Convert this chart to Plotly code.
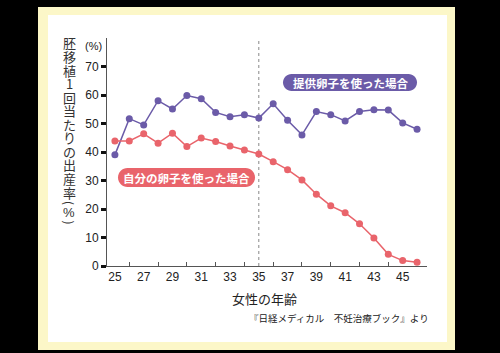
import plotly.graph_objects as go

ages = list(range(25, 47))
donor_rate = [39.0, 51.7, 49.5, 58.0, 55.1, 59.8, 58.7, 53.9, 52.4, 53.1, 51.9,
              56.9, 51.1, 46.0, 54.2, 53.1, 50.9, 54.2, 54.8, 54.7, 50.2, 48.0]
own_rate = [43.9, 43.9, 46.4, 43.1, 46.6, 41.9, 44.9, 43.7, 42.1, 40.7, 39.3,
            36.6, 33.8, 30.2, 25.2, 21.1, 18.7, 14.8, 9.8, 4.1, 1.9, 1.3]
y_ticks = [0, 10, 20, 30, 40, 50, 60, 70]
x_label_ticks = [25, 27, 29, 31, 33, 35, 37, 39, 41, 43, 45]
x_minor_ticks = [26, 28, 30, 32, 34, 36, 38, 40, 42, 44]

donor_label = "提供卵子を使った場合"
own_label = "自分の卵子を使った場合"
y_title_chars = list("胚移植1回当たりの出産率") + ["(", "%", ")"]
x_title = "女性の年齢"
source = "『日経メディカル　不妊治療ブック』より"

PURPLE = "#6b5ba8"
RED = "#e9646b"
JP = "Noto Sans CJK JP"

L, T, W, H = 107, 38, 320, 228


def px(x):
    return (x - L) / W


def py(y):
    return (T + H - y) / H


def pill(x0, y0, x1, y1):
    r = (y1 - y0) / 2
    k = 0.5523 * r
    pts = [
        ("M", [(x0 + r, y0)]),
        ("L", [(x1 - r, y0)]),
        ("C", [(x1 - r + k, y0), (x1, y0 + r - k), (x1, y0 + r)]),
        ("C", [(x1, y0 + r + k), (x1 - r + k, y1), (x1 - r, y1)]),
        ("L", [(x0 + r, y1)]),
        ("C", [(x0 + r - k, y1), (x0, y0 + r + k), (x0, y0 + r)]),
        ("C", [(x0, y0 + r - k), (x0 + r - k, y0), (x0 + r, y0)]),
    ]
    s = ""
    for cmd, ps in pts:
        s += cmd + " " + " ".join(f"{px(a):.5f},{py(b):.5f}" for a, b in ps) + " "
    return s + "Z"


def note(text, x, y, size, color="#222", family=JP, xanchor="center", weight="normal", **kw):
    return dict(text=text, xref="paper", yref="paper", x=px(x), y=py(y),
                xanchor=xanchor, yanchor="middle", showarrow=False,
                font=dict(family=family, size=size, color=color, weight=weight), **kw)


fig = go.Figure()
fig.add_trace(go.Scatter(x=ages, y=donor_rate, mode="lines+markers",
                         line=dict(color=PURPLE, width=1.5),
                         marker=dict(color=PURPLE, size=7), showlegend=False))
fig.add_trace(go.Scatter(x=ages, y=own_rate, mode="lines+markers",
                         line=dict(color=RED, width=1.5),
                         marker=dict(color=RED, size=7), showlegend=False))

shapes = [
    dict(type="rect", xref="paper", yref="paper", x0=px(38), x1=px(455),
         y0=py(350), y1=py(7), fillcolor="#fcf7c8", line=dict(width=0), layer="below"),
    dict(type="rect", xref="paper", yref="paper", x0=px(48), x1=px(447),
         y0=py(342), y1=py(15), fillcolor="#ffffff", line=dict(width=0), layer="below"),
    dict(type="line", xref="x", yref="paper", x0=35, x1=35, y0=0, y1=1,
         line=dict(color="#888888", width=1, dash="dot"), layer="below"),
    dict(type="path", xref="paper", yref="paper", path=pill(283, 74, 417, 91),
         fillcolor=PURPLE, line=dict(width=0)),
    dict(type="path", xref="paper", yref="paper", path=pill(118, 168, 255, 187),
         fillcolor=RED, line=dict(width=0)),
]

annotations = [
    note(donor_label, 350, 82.5, 11.5, color="white", weight="bold"),
    note(own_label, 186.5, 177.5, 11.5, color="white", weight="bold"),
    note("(%)", 93, 46, 11, family="Liberation Sans"),
    note(x_title, 264, 298, 13),
    note(source, 431, 318, 9.5, xanchor="right"),
]

y_centers = [43 + i * 13.55 for i in range(12)] + [203, 212.5, 222.5]
for ch, yc in zip(y_title_chars, y_centers):
    if ch in "()":
        annotations.append(note(ch, 69, yc, 12, color="#333", textangle=90))
    elif ch == "%":
        annotations.append(note(ch, 69, yc, 13, color="#333", family="Liberation Sans"))
    else:
        annotations.append(note(ch, 69, yc, 13, color="#333"))

fig.update_layout(
    width=500, height=353,
    margin=dict(l=L, r=500 - L - W, t=T, b=353 - T - H),
    paper_bgcolor="#000000", plot_bgcolor="rgba(0,0,0,0)",
    shapes=shapes, annotations=annotations,
    xaxis=dict(range=[24.45, 46.69], tickvals=x_label_ticks,
               ticktext=[str(v) for v in x_label_ticks], ticks="", showgrid=False,
               zeroline=False, showline=True, linecolor="#555", linewidth=1,
               tickfont=dict(family="Liberation Sans", size=12, color="#222"),
               minor=dict(tickvals=x_minor_ticks, ticks="inside", ticklen=4,
                          tickcolor="#555", tickwidth=1, showgrid=False)),
    yaxis=dict(range=[0, 80], tickvals=y_ticks, ticks="outside", ticklen=5,
               tickwidth=2.5, tickcolor="#111", showgrid=False, zeroline=False,
               showline=True, linecolor="#555", linewidth=1,
               tickfont=dict(family="Liberation Sans", size=12, color="#222")),
)

fig.write_html("out.html")
